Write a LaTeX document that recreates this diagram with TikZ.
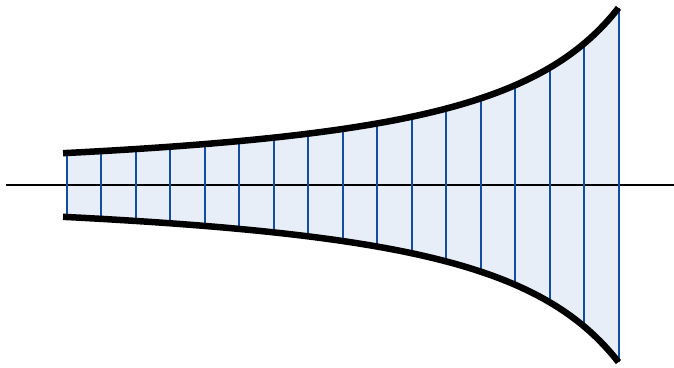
\documentclass[tikz,border=0pt]{standalone}
\definecolor{hornfill}{RGB}{232,238,248}
\definecolor{ribblue}{RGB}{18,78,160}
\tikzset{
  hornedge/.style={line width=6.5pt, black, line cap=butt, line join=round},
  rib/.style={line width=2pt, ribblue},
  axisline/.style={line width=1.6pt, black},
}
\pgfmathdeclarefunction{hornh}{1}{\pgfmathparse{32*exp(1.135*ln(20.55/(20.55-#1)))}}
\begin{document}
\begin{tikzpicture}[x=1pt,y=1pt]
\useasboundingbox (0,0) rectangle (674,367);
% fill
\fill[hornfill] plot[domain=0:16, samples=120] ({66.5+34.5*\x},{182+hornh(\x)})
 -- plot[domain=16:0, samples=120] ({66.5+34.5*\x},{182-hornh(\x)}) -- cycle;
% axis
\draw[axisline] (6,182) -- (674,182);
% ribs
\foreach \i in {0,...,16}
  \draw[rib] ({66.5+34.5*\i},{182+hornh(\i)}) -- ({66.5+34.5*\i},{182-hornh(\i)});
% edges
\draw[hornedge] plot[domain=-0.1:16, samples=120] ({66.5+34.5*\x},{182+hornh(\x)});
\draw[hornedge] plot[domain=-0.1:16, samples=120] ({66.5+34.5*\x},{182-hornh(\x)});
\end{tikzpicture}
\end{document}
